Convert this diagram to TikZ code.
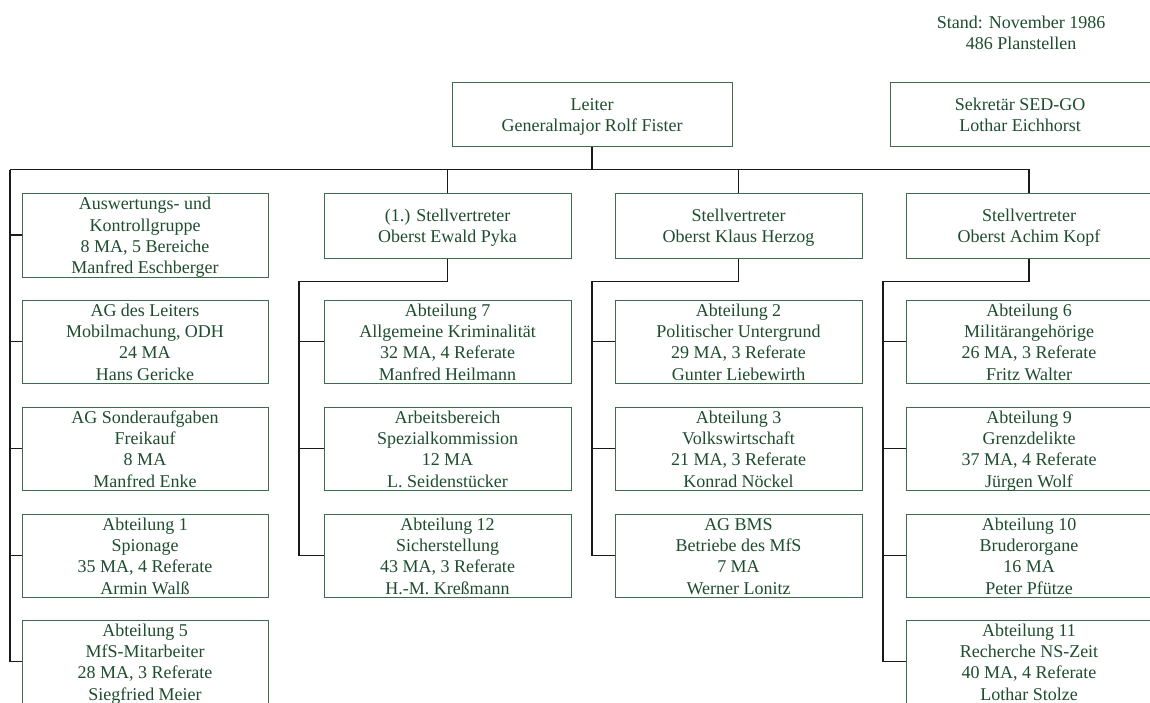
\documentclass[tikz,border=0pt]{standalone}
\usepackage{fontspec}
\setmainfont{Liberation Serif}
\definecolor{textgreen}{HTML}{1E4D2E}
\definecolor{boxgreen}{HTML}{3E6B4C}
\definecolor{linecol}{HTML}{1A1A1A}
% lines are smashed; the struts alone fix the height of the text block
\newcommand{\fourl}[4]{\rule{0pt}{16.3pt}\smash{#1}\\\smash{#2}\\\smash{#3}\\\smash{#4}\rule[-2.8pt]{0pt}{2.8pt}}
\newcommand{\twol}[2]{\rule{0pt}{28pt}\smash{#1}\\\smash{#2}\rule[-14.7pt]{0pt}{14.7pt}}
\tikzset{
  box/.style={draw=boxgreen, line width=1pt, text=textgreen, minimum width=246pt,
    minimum height=83pt, inner sep=0pt, align=center,
    font=\fontsize{18}{21.3}\selectfont},
  headbox/.style={box, minimum height=65pt, minimum width=247pt},
  plain/.style={text=textgreen, inner sep=0pt, align=center, font=\fontsize{18}{21.3}\selectfont},
  conn/.style={draw=linecol, line width=1.1pt},
}
\begin{document}
\begin{tikzpicture}[x=1pt,y=-1pt]
\clip (0,0) rectangle (1150,702);
\fill[white] (0,0) rectangle (1150,702);

\node[plain] (stand) at (1021,32) {\twol{Stand: November 1986}{486 Planstellen}};

\node[box, minimum width=280pt, minimum height=64pt] (leiter) at (592,114) {\twol{Leiter}{Generalmajor Rolf Fister}};
\node[box, minimum width=260pt, minimum height=64pt] (sek) at (1020,114) {\twol{Sekretär SED-GO}{Lothar Eichhorst}};

% column 1
\node[box, minimum height=84pt] (a1) at (145,235) {\fourl{Auswertungs- und}{Kontrollgruppe}{8 MA, 5 Bereiche}{Manfred Eschberger}};
\node[box] (a2) at (145,341.5) {\fourl{AG des Leiters}{Mobilmachung, ODH}{24 MA}{Hans Gericke}};
\node[box] (a3) at (145,448.5) {\fourl{AG Sonderaufgaben}{Freikauf}{8 MA}{Manfred Enke}};
\node[box] (a4) at (145,555.5) {\fourl{Abteilung 1}{Spionage}{35 MA, 4 Referate}{Armin Walß}};
\node[box] (a5) at (145,661.5) {\fourl{Abteilung 5}{MfS-Mitarbeiter}{28 MA, 3 Referate}{Siegfried Meier}};

% column 2
\node[headbox] (pyka) at (447.5,225.5) {\twol{(1.) Stellvertreter}{Oberst Ewald Pyka}};
\node[box, minimum width=247pt] (b1) at (447.5,341.5) {\fourl{Abteilung 7}{Allgemeine Kriminalität}{32 MA, 4 Referate}{Manfred Heilmann}};
\node[box, minimum width=247pt] (b2) at (447.5,448.5) {\fourl{Arbeitsbereich}{Spezialkommission}{12 MA}{L. Seidenstücker}};
\node[box, minimum width=247pt] (b3) at (447.5,555.5) {\fourl{Abteilung 12}{Sicherstellung}{43 MA, 3 Referate}{H.-M. Kreßmann}};

% column 3
\node[headbox] (herzog) at (738.5,225.5) {\twol{Stellvertreter}{Oberst Klaus Herzog}};
\node[box, minimum width=247pt] (c1) at (738.5,341.5) {\fourl{Abteilung 2}{Politischer Untergrund}{29 MA, 3 Referate}{Gunter Liebewirth}};
\node[box, minimum width=247pt] (c2) at (738.5,448.5) {\fourl{Abteilung 3}{Volkswirtschaft}{21 MA, 3 Referate}{Konrad Nöckel}};
\node[box, minimum width=247pt] (c3) at (738.5,555.5) {\fourl{AG BMS}{Betriebe des MfS}{7 MA}{Werner Lonitz}};

% column 4
\node[headbox, minimum width=246pt] (kopf) at (1029,225.5) {\twol{Stellvertreter}{Oberst Achim Kopf}};
\node[box] (d1) at (1029,341.5) {\fourl{Abteilung 6}{Militärangehörige}{26 MA, 3 Referate}{Fritz Walter}};
\node[box] (d2) at (1029,448.5) {\fourl{Abteilung 9}{Grenzdelikte}{37 MA, 4 Referate}{Jürgen Wolf}};
\node[box] (d3) at (1029,555.5) {\fourl{Abteilung 10}{Bruderorgane}{16 MA}{Peter Pfütze}};
\node[box] (d4) at (1029,661.5) {\fourl{Abteilung 11}{Recherche NS-Zeit}{40 MA, 4 Referate}{Lothar Stolze}};

% main bus
\coordinate (busL) at (10,169.5);
\draw[conn] (leiter.south) -- (leiter.south |- busL);
\draw[conn] (busL) -- (kopf.north |- busL) -- (kopf.north);
\draw[conn] (pyka.north |- busL) -- (pyka.north);
\draw[conn] (herzog.north |- busL) -- (herzog.north);

% column 1 links
\draw[conn] (busL) |- (a5.west);
\foreach \n in {a1,a2,a3,a4}{\draw[conn] (busL |- \n.west) -- (\n.west);}

% column 2 links
\coordinate (bb) at (299,281.5);
\draw[conn] (pyka.south) |- (bb) |- (b3.west);
\foreach \n in {b1,b2}{\draw[conn] (bb |- \n.west) -- (\n.west);}

% column 3 links
\coordinate (cb) at (592,281.5);
\draw[conn] (herzog.south) |- (cb) |- (c3.west);
\foreach \n in {c1,c2}{\draw[conn] (cb |- \n.west) -- (\n.west);}

% column 4 links
\coordinate (db) at (883,281.5);
\draw[conn] (kopf.south) |- (db) |- (d4.west);
\foreach \n in {d1,d2,d3}{\draw[conn] (db |- \n.west) -- (\n.west);}
\end{tikzpicture}
\end{document}
